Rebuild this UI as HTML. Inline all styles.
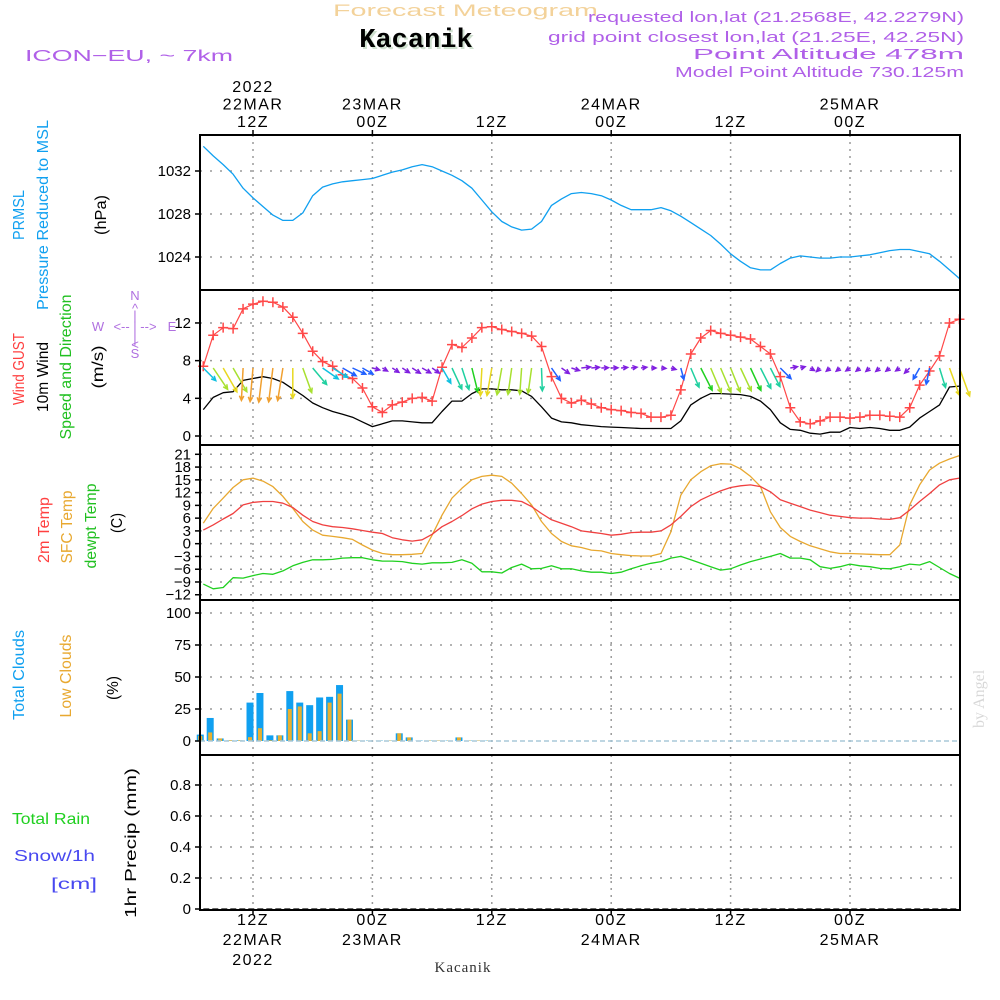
<!DOCTYPE html>
<html><head><meta charset="utf-8"><title>Meteogram Kacanik</title>
<style>
html,body{margin:0;padding:0;background:#fff;}
svg{display:block;font-family:"Liberation Sans",sans-serif;}
</style></head>
<body>
<svg id="chart" width="1000" height="1000" viewBox="0 0 1000 1000" xmlns="http://www.w3.org/2000/svg">
<rect x="0" y="0" width="1000" height="1000" fill="#fff"/>
<!-- header -->
<text x="333" y="16" font-size="17" textLength="265" lengthAdjust="spacingAndGlyphs" fill="#f3d29a">Forecast Meteogram</text>
<text x="418" y="49" text-anchor="middle" font-family="Liberation Mono, monospace" font-weight="bold" font-size="27" fill="#cfe0cf">Kacanik</text>
<text x="416" y="47" text-anchor="middle" font-family="Liberation Mono, monospace" font-weight="bold" font-size="27" fill="#000">Kacanik</text>
<text x="25" y="61" font-size="16" textLength="208" lengthAdjust="spacingAndGlyphs" fill="#b060e8">ICON−EU, ~ 7km</text>
<g font-size="15" fill="#b060e8">
<text x="588" y="22" textLength="376" lengthAdjust="spacingAndGlyphs">requested lon,lat (21.2568E, 42.2279N)</text>
<text x="548" y="42" textLength="416" lengthAdjust="spacingAndGlyphs">grid point closest lon,lat (21.25E, 42.25N)</text>
<text x="693" y="59" textLength="271" lengthAdjust="spacingAndGlyphs">Point Altitude 478m</text>
<text x="675" y="77" textLength="289" lengthAdjust="spacingAndGlyphs">Model Point Altitude 730.125m</text>
</g>
<g id="grid"></g>
<g id="marks"></g>
<g id="frames"></g>
<g id="axes" font-size="15" fill="#000"></g>
<g id="labels"></g>
<text transform="translate(984,728) rotate(-90)" font-family="Liberation Serif, serif" font-size="16" fill="#d8d8d8">by Angel</text>
<text x="463" y="972" text-anchor="middle" font-family="Liberation Serif, serif" font-size="15" letter-spacing="1" fill="#333">Kacanik</text>
</svg>
<script>
// ---------------- data (hourly, from 22MAR 07Z to 25MAR 11Z) ----------------
const startHour = 7;
const pressure = [1034.3,1033.4,1032.6,1031.7,1030.4,1029.5,1028.7,1027.9,1027.4,1027.4,
1028.1,1029.7,1030.5,1030.8,1031.0,1031.1,1031.2,1031.3,1031.6,1031.9,
1032.1,1032.4,1032.6,1032.4,1032.0,1031.6,1031.1,1030.4,1029.3,1028.2,
1027.3,1026.8,1026.5,1026.6,1027.3,1028.8,1029.4,1029.9,1030.0,1029.9,
1029.7,1029.3,1028.8,1028.4,1028.4,1028.4,1028.6,1028.3,1027.8,1027.2,
1026.6,1026.0,1025.2,1024.3,1023.6,1023.0,1022.8,1022.8,1023.4,1023.9,
1024.1,1024.0,1023.9,1023.9,1024.0,1024.0,1024.1,1024.2,1024.4,1024.6,
1024.7,1024.7,1024.5,1024.3,1023.6,1022.8,1022.0];
const windGust = [7.4,10.7,11.5,11.4,13.5,14.0,14.3,14.2,13.7,12.6,
10.9,9.0,7.9,7.4,6.5,6.1,5.1,3.1,2.5,3.3,
3.6,4.0,4.1,3.7,7.3,9.7,9.4,10.4,11.5,11.6,
11.3,11.1,10.9,10.6,9.5,6.3,4.0,3.5,3.8,3.4,
3.0,2.8,2.7,2.5,2.4,2.0,2.0,2.2,4.9,8.7,
10.4,11.2,10.9,10.7,10.5,10.3,9.5,8.7,6.3,3.0,
1.5,1.3,1.6,2.0,2.0,1.9,2.0,2.2,2.2,2.1,
2.0,3.0,5.4,6.9,8.5,12.0,12.4];
const windSpeed = [2.8,4.1,4.6,4.7,5.9,6.1,6.3,6.1,5.7,5.0,
4.3,3.5,3.0,2.6,2.3,2.0,1.5,1.0,1.3,1.6,
1.6,1.5,1.4,1.4,2.6,3.7,3.7,4.5,5.0,5.0,
4.9,4.9,4.8,4.2,3.1,1.9,1.5,1.4,1.2,1.1,
1.0,0.95,0.9,0.85,0.8,0.8,0.8,0.8,1.6,3.3,
4.0,4.5,4.5,4.45,4.4,4.2,3.7,2.8,1.4,0.7,
0.6,0.3,0.2,0.4,0.4,0.9,0.8,0.9,0.8,0.6,
0.6,0.95,1.9,2.6,3.3,5.2,5.3];
const windDir = [315,326,330,330,3,5,7,7,9,0,
340,320,305,302,300,295,300,285,300,303,
303,303,300,305,330,335,342,346,3,10,
10,8,4,8,358,325,305,287,263,265,
268,268,265,262,262,270,275,285,345,337,
333,337,337,338,335,335,333,333,315,260,
255,300,45,50,50,55,50,50,50,50,
55,45,30,12,343,340,340];
const temp2m = [3.2,4.4,5.8,7.1,9.1,9.7,9.9,9.9,9.5,8.5,
6.7,5.2,4.4,4.0,3.8,3.5,3.1,2.7,2.4,1.4,
0.9,0.6,0.9,2.2,4.0,5.2,6.6,8.2,9.3,9.9,
10.2,10.2,9.9,8.7,7.1,5.6,4.8,4.0,3.0,2.7,
2.4,2.0,2.2,2.6,2.7,2.7,3.0,4.4,6.4,8.7,
10.3,11.4,12.4,13.2,13.6,13.8,13.4,12.2,10.3,9.5,
8.7,7.9,7.3,6.7,6.4,6.1,6.0,6.0,5.8,5.7,
6.1,7.9,9.9,11.8,13.8,15.0,15.4];
const tempSfc = [4.8,8.3,10.7,13.2,15.0,15.4,14.7,13.4,11.1,8.3,
5.2,3.2,2.0,1.7,1.4,1.0,-0.3,-1.5,-2.3,-2.6,
-2.6,-2.5,-2.3,2.0,6.7,10.7,13.0,15.0,15.8,16.1,
15.8,14.2,11.8,9.1,5.2,2.4,0.5,-0.5,-0.9,-1.5,
-1.7,-2.3,-2.6,-2.8,-2.9,-2.9,-2.3,2.8,11.4,15.0,
16.9,18.3,18.8,18.7,17.6,15.8,13.4,7.5,3.8,1.7,
0.5,-0.5,-1.2,-1.9,-2.3,-2.3,-2.4,-2.5,-2.6,-2.6,
-0.3,9.1,13.8,17.3,18.9,19.9,20.7];
const dewpoint = [-9.5,-10.6,-10.3,-8.0,-8.1,-7.5,-7.0,-7.2,-6.4,-5.2,
-4.4,-3.8,-3.8,-3.7,-3.4,-3.3,-3.3,-3.8,-4.1,-4.1,
-4.2,-4.6,-4.8,-4.5,-4.5,-4.4,-3.8,-4.6,-6.6,-6.6,
-6.9,-5.6,-4.8,-5.9,-5.8,-5.2,-5.9,-5.9,-6.4,-6.7,
-6.7,-7.0,-6.7,-5.9,-5.2,-4.6,-4.2,-3.4,-3.0,-3.8,
-4.6,-5.4,-6.2,-5.9,-5.0,-4.2,-3.6,-3.0,-2.3,-3.4,
-3.4,-3.8,-5.4,-5.8,-5.4,-4.8,-5.2,-5.4,-5.8,-5.9,
-5.4,-4.8,-5.0,-4.2,-5.6,-7.0,-8.1];
const totalClouds = [5,18,2,0.5,0.5,30,37.5,4.4,4.4,39,
30,28,34,34.5,43.7,16.7,0.3,0.3,0.3,0.3,
6,2.8,0.3,0.3,0.3,0.3,2.8,0.3,0.3,0.3,
0,0,0,0,0,0,0,0,0,0,0,0,0,0,0,0,0,0,0,0,0,0,0,0,0,0,0,0,0,0,0,0,0,0,0,0,0,0,0,0,0,0,0,0,0,0,0];
const lowClouds = [4,6.7,2,0.5,0.5,3,10,0.5,4.4,25,
27,6,7.7,30,37,16.7,0.3,0.3,0.3,0.3,
6,2.8,0.3,0.3,0.3,0.3,2.8,0.3,0.3,0.3,
0,0,0,0,0,0,0,0,0,0,0,0,0,0,0,0,0,0,0,0,0,0,0,0,0,0,0,0,0,0,0,0,0,0,0,0,0,0,0,0,0,0,0,0,0,0,0];
const precip = [0,0,0,0,0,0,0,0,0,0,0,0,0,0,0,0,0,0,0,0,0,0,0,0,0,0,0,0,0,0,0,0,0,0,0,0,0,0,0,0,0,0,0,0,0,0,0,0,0,0,0,0,0,0,0,0,0,0,0,0,0,0,0,0,0,0,0,0,0,0,0,0,0,0,0,0,0];
const pressureTicks = [1024,1028,1032];
const windTicks = [0,4,8,12];
const tempTicks = [-12,-9,-6,-3,0,3,6,9,12,15,18,21];
const cloudTicks = [0,25,50,75,100];
const precipTicks = [0,0.2,0.4,0.6,0.8];
const timeTicksHours = [12,24,36,48,60,72];
const timeTopLabels = [["2022","22MAR","12Z"],["23MAR","00Z"],["12Z"],["24MAR","00Z"],["12Z"],["25MAR","00Z"]];
const timeBottomLabels = [["12Z","22MAR","2022"],["00Z","23MAR"],["12Z"],["00Z","24MAR"],["12Z"],["00Z","25MAR"]];

// ---------------- scales ----------------
const X0 = 200, X1 = 960;
const xOf = h => 253 + (h - 12) * 9.95;
const yP = p => 171 + (1032 - p) * 10.75;
const yW = v => 436 - v * 9.42;
const yT = t => 454.3 + (21 - t) * 4.256;
const yC = c => 741 - c * 1.28;
const yR = r => 909 - r * 155;
const panels = [[135,290],[290,445],[445,600],[600,755],[755,910]];

const NS = "http://www.w3.org/2000/svg";
function mk(tag, attrs, parent){
  const e = document.createElementNS(NS, tag);
  for (const k in attrs) e.setAttribute(k, attrs[k]);
  parent.appendChild(e);
  return e;
}
const gGrid = document.getElementById('grid');
const gMarks = document.getElementById('marks');
const gFrames = document.getElementById('frames');
const gAxes = document.getElementById('axes');
const gLabels = document.getElementById('labels');

// ---------------- grid ----------------
panels.forEach((p, pi) => {
  timeTicksHours.forEach(h => {
    const l = mk('line', {x1:xOf(h), x2:xOf(h), y1:p[0], y2:p[1], stroke:'#9a9a9a', 'stroke-width':1.5, 'stroke-dasharray':'2,5'}, gGrid);
    
    
  });
});
function hGrid(ticks, yf, name){
  ticks.forEach(v => {
    const l = mk('line', {x1:X0, x2:X1, y1:yf(v), y2:yf(v), stroke:'#9a9a9a', 'stroke-width':1.5, 'stroke-dasharray':'2,8'}, gGrid);
    
    
  });
}
hGrid(pressureTicks, yP, 'pressure-gridline');
hGrid(windTicks, yW, 'wind-gridline');
hGrid(tempTicks, yT, 'temp-gridline');
hGrid(cloudTicks.slice(1), yC, 'cloud-gridline');
hGrid(precipTicks.slice(1), yR, 'precip-gridline');

// ---------------- frames ----------------
panels.forEach((p, pi) => {
  const r = mk('rect', {x:X0, y:p[0], width:X1-X0, height:p[1]-p[0], fill:'none', stroke:'#000', 'stroke-width':2}, gFrames);
  
  
});

// ---------------- y axes ----------------
function yAxis(ticks, yf, name, fmt){
  ticks.forEach(v => {
    const t = mk('line', {x1:X0-5, x2:X0, y1:yf(v), y2:yf(v), stroke:'#000', 'stroke-width':1.5}, gAxes);
    
    
    const tx = mk('text', {x:X0-9, y:yf(v)+5, 'text-anchor':'end'}, gAxes);
    tx.textContent = fmt ? fmt(v) : String(v);
    
    
  });
}
yAxis(pressureTicks, yP, 'pressure-axis');
yAxis(windTicks, yW, 'wind-axis');
yAxis(tempTicks, yT, 'temp-axis', v => v < 0 ? '−' + (-v) : String(v));
yAxis(cloudTicks, yC, 'cloud-axis');
yAxis(precipTicks, yR, 'precip-axis', v => v === 0 ? '0' : v.toFixed(1));

// ---------------- time axes ----------------
timeTicksHours.forEach((h, i) => {
  const x = xOf(h);
  const t1 = mk('line', {x1:x, x2:x, y1:130, y2:135, stroke:'#000', 'stroke-width':1.5}, gAxes);
  
  
  const t2 = mk('line', {x1:x, x2:x, y1:910, y2:915, stroke:'#000', 'stroke-width':1.5}, gAxes);
  
  
  const top = timeTopLabels[i];
  top.forEach((s, j) => {
    const tx = mk('text', {x:x, y:127 - (top.length-1-j)*17.5, 'text-anchor':'middle', 'font-size':16, 'letter-spacing':1.5}, gAxes);
    tx.textContent = s;
    
    
  });
  timeBottomLabels[i].forEach((s, j) => {
    const tx = mk('text', {x:x, y:925 + j*20, 'text-anchor':'middle', 'font-size':16, 'letter-spacing':1.5}, gAxes);
    tx.textContent = s;
    
    
  });
});

// ---------------- series helpers ----------------
function pathFrom(vals, yf){
  return vals.map((v, i) => (i ? 'L' : 'M') + xOf(startHour + i).toFixed(1) + ',' + yf(v).toFixed(1)).join(' ');
}
function line(vals, yf, color, name, w){
  const p = mk('path', {d:pathFrom(vals, yf), fill:'none', stroke:color, 'stroke-width':w||1.3, 'stroke-linejoin':'round'}, gMarks);
  
  
  return p;
}

// pressure
line(pressure, yP, '#10a0f0', 'pressure-line');

// cloud bars
totalClouds.forEach((c, i) => {
  const x = xOf(startHour + i) - 3;
  if (c > 0) {
    const b = mk('rect', {x:x-3.5, y:yC(c), width:7, height:yC(0)-yC(c), fill:'#10a0f0'}, gMarks);
    
    
  }
  const lc = lowClouds[i];
  if (lc > 0) {
    const b2 = mk('rect', {x:x-2, y:yC(lc), width:4, height:yC(0)-yC(lc), fill:'#e8b030'}, gMarks);
    
    
  }
});
const cb = mk('line', {x1:X0, x2:X1, y1:yC(0), y2:yC(0), stroke:'#a8c8d8', 'stroke-width':1.5, 'stroke-dasharray':'5,3'}, gMarks);



// precip baseline (values all zero)
const pb = mk('path', {d:pathFrom(precip, yR), fill:'none', stroke:'#333', 'stroke-width':1.5, 'stroke-dasharray':'6,3'}, gMarks);



// temperatures
line(tempSfc, yT, '#e8a830', 'sfc-temp-line');
line(temp2m, yT, '#f04040', 'temp-2m-line');
line(dewpoint, yT, '#20d020', 'dewpoint-line');

// wind speed + gust
line(windSpeed, yW, '#000', 'wind-speed-line');
line(windGust, yW, '#ff4848', 'wind-gust-line', 1.2);
windGust.forEach((g, i) => {
  const x = xOf(startHour + i), y = yW(g);
  const m = mk('path', {d:`M${x-5},${y} L${x+5},${y} M${x},${y-5} L${x},${y+5}`, stroke:'#ff4848', 'stroke-width':1.5}, gMarks);
  
  
});

// wind direction arrows
function arrowColor(g){
  if (g >= 13) return '#f0a030';
  if (g >= 11.5) return '#e8d820';
  if (g >= 10.5) return '#a8e030';
  if (g >= 9.8) return '#20d020';
  if (g >= 8.5) return '#20d0a0';
  if (g >= 7) return '#10c0e0';
  if (g >= 4.5) return '#2060ff';
  return '#8020e0';
}
windDir.forEach((d, i) => {
  const g = windGust[i];
  const len = Math.max(5, g * 2.4);
  const ang = (d + 180) * Math.PI / 180;
  const x0 = xOf(startHour + i), y0 = 368;
  const x1 = x0 + Math.sin(ang) * len, y1 = y0 - Math.cos(ang) * len;
  const hl = 5, a1 = ang + Math.PI - 0.45, a2 = ang + Math.PI + 0.45;
  const d1 = `M${x0.toFixed(1)},${y0} L${x1.toFixed(1)},${y1.toFixed(1)} M${(x1+Math.sin(a1)*hl).toFixed(1)},${(y1-Math.cos(a1)*hl).toFixed(1)} L${x1.toFixed(1)},${y1.toFixed(1)} L${(x1+Math.sin(a2)*hl).toFixed(1)},${(y1-Math.cos(a2)*hl).toFixed(1)}`;
  const a = mk('path', {d:d1, fill:'none', stroke:arrowColor(g), 'stroke-width':1.5}, gMarks);
  
  
});

// ---------------- side labels ----------------
function vlabel(text, x, cy, len, color, name, size){
  const t = mk('text', {transform:`translate(${x},${cy}) rotate(-90)`, 'text-anchor':'middle', 'font-size':size||16, fill:color, textLength:len, lengthAdjust:'spacingAndGlyphs'}, gLabels);
  t.textContent = text;
  
  
}
vlabel('PRMSL', 24, 215, 50, '#10a0f0', 'prmsl-label');
vlabel('Pressure Reduced to MSL', 48, 215, 190, '#10a0f0', 'pressure-title');
vlabel('(hPa)', 106, 215, 40, '#000', 'pressure-unit');
vlabel('Wind GUST', 24, 369, 72, '#ff4040', 'wind-gust-title');
vlabel('10m Wind', 48, 377, 70, '#000', 'wind-10m-title');
vlabel('Speed and Direction', 71, 367, 145, '#20c020', 'wind-speed-direction-title');
vlabel('(m/s)', 103, 367, 43, '#000', 'wind-unit');
vlabel('2m Temp', 49, 530, 66, '#ff4040', 'temp-2m-title');
vlabel('SFC Temp', 72, 527, 73, '#e8a830', 'sfc-temp-title');
vlabel('dewpt Temp', 96, 526, 85, '#20c020', 'dewpoint-title');
vlabel('(C)', 122, 523, 20, '#000', 'temp-unit');
vlabel('Total Clouds', 24, 675, 90, '#10a0f0', 'total-clouds-title');
vlabel('Low Clouds', 71, 676, 83, '#e8a830', 'low-clouds-title');
vlabel('(%)', 118, 688, 24, '#000', 'cloud-unit');
vlabel('1hr Precip (mm)', 136, 843, 150, '#000', 'precip-unit');

function hlabel(text, x, y, color, name, len){
  const t = mk('text', {x:x, y:y, 'font-size':16, fill:color, textLength:len, lengthAdjust:'spacingAndGlyphs'}, gLabels);
  t.textContent = text;
  
  
}
hlabel('Total  Rain', 12, 824, '#20d020', 'rain-legend', 78);
hlabel('Snow/1h', 14, 861, '#4848f0', 'snow-legend', 81);
hlabel('[cm]', 51, 889, '#4848f0', 'snow-unit', 46);

// compass
const comp = [['N',135,300],['S',135,358],['W',98,331],['E',172,331],['<-- | -->',135,331],['^',135,313],['|',135,320],['<',135,349],['|',135,343]];
comp.forEach(c => {
  const t = mk('text', {x:c[1], y:c[2], 'text-anchor':'middle', 'font-size':13, fill:'#b070e0'}, gLabels);
  t.textContent = c[0];
  
  
});
</script>
</body></html>
